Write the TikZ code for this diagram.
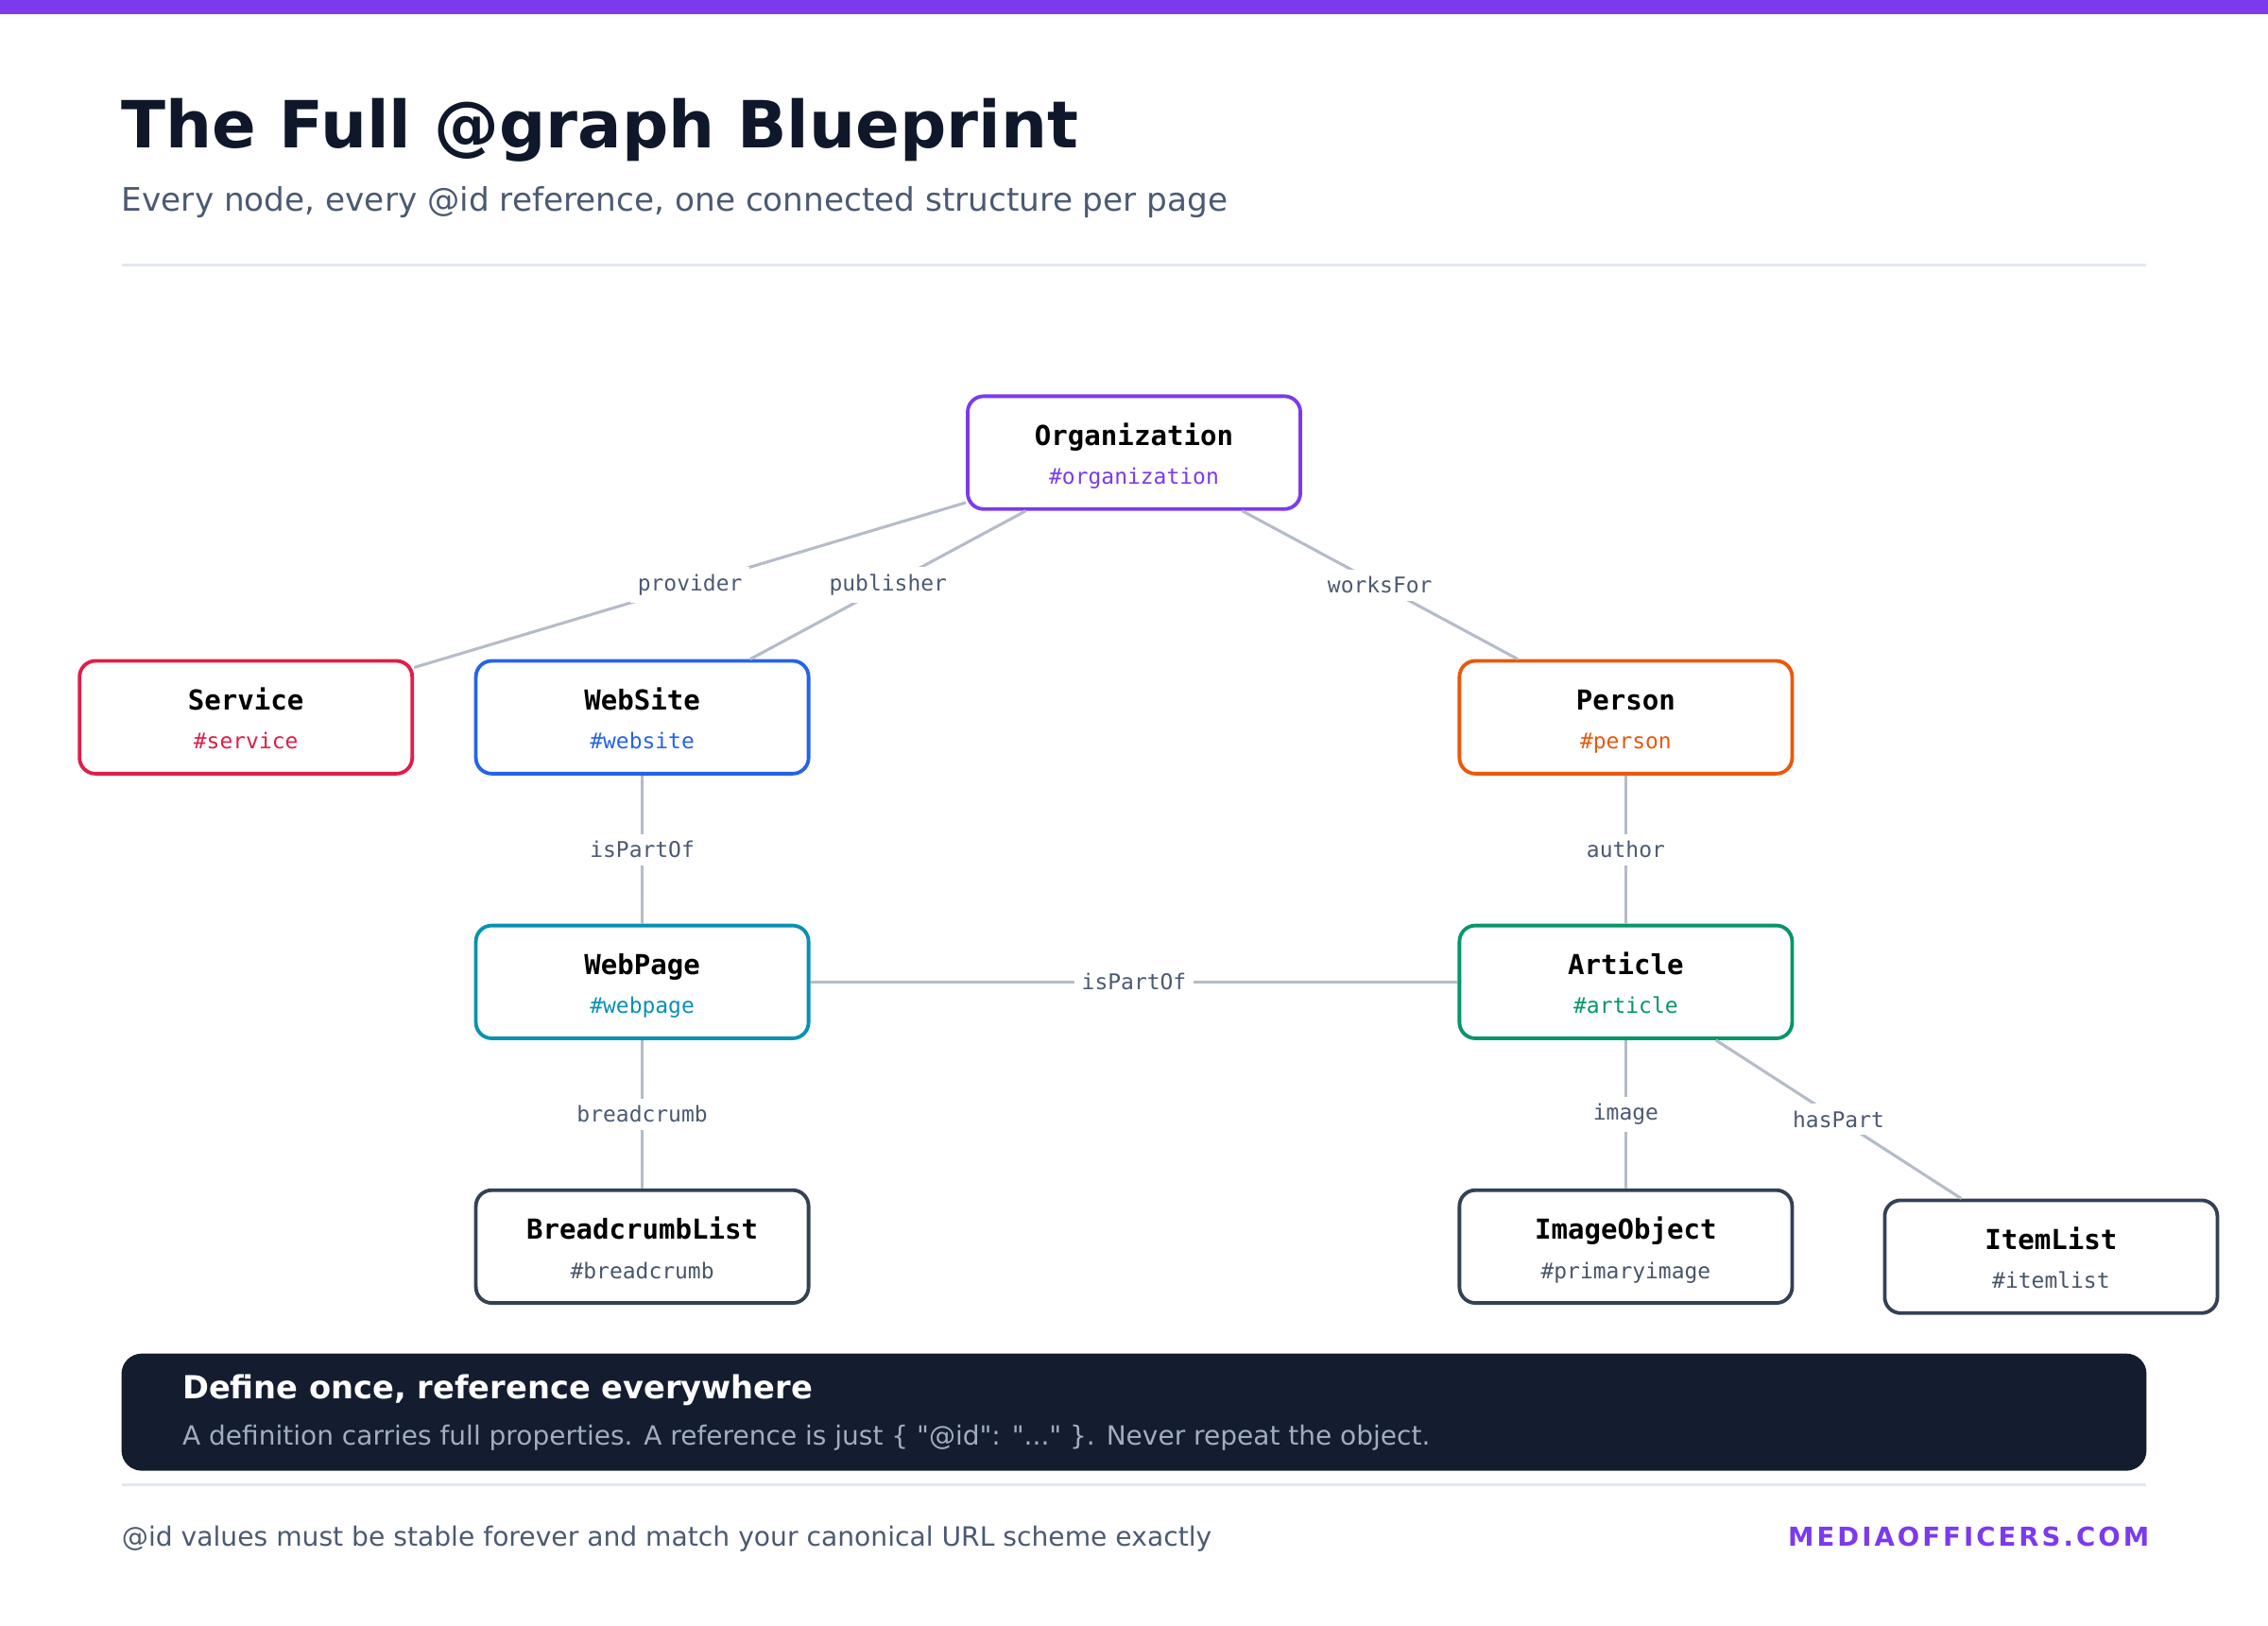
\documentclass[tikz,border=0pt]{standalone}
\usepackage{fontspec}
\setmainfont{DejaVu Sans}[Ligatures=TeXOff]
\setmonofont{DejaVu Sans Mono}
\newfontfamily\spacedfont[LetterSpace=11]{DejaVu Sans}
\usetikzlibrary{positioning}

\definecolor{barpurple}{HTML}{7C3AED}
\definecolor{inkdark}{HTML}{0F172A}
\definecolor{slatetext}{HTML}{4B5A72}
\definecolor{rulegray}{HTML}{E2E8F0}
\definecolor{edgegray}{HTML}{B4BCC8}
\definecolor{orgc}{HTML}{7C3AED}
\definecolor{svcc}{HTML}{E11D48}
\definecolor{webc}{HTML}{2563EB}
\definecolor{perc}{HTML}{EA580C}
\definecolor{pagec}{HTML}{0891B2}
\definecolor{artc}{HTML}{059669}
\definecolor{plainc}{HTML}{334155}
\definecolor{idgray}{HTML}{475569}
\definecolor{panel}{HTML}{141C2F}
\definecolor{panelsub}{HTML}{A0AEC0}

\tikzset{
  entity/.style={draw=#1, line width=2.5pt, rounded corners=11pt, fill=white,
    minimum width=230pt, minimum height=78pt, inner sep=0pt},
  entityname/.style={anchor=base, inner sep=0pt, font=\ttfamily\bfseries\fontsize{19}{22}\selectfont},
  entityid/.style={anchor=base, inner sep=0pt, text=#1, font=\ttfamily\fontsize{15}{18}\selectfont},
  rel/.style={draw=edgegray, line width=2pt},
  rellabel/.style={fill=white, text=slatetext, font=\ttfamily\fontsize{15}{18}\selectfont, inner sep=5pt},
}
% name, centre, frame colour, type, id, id colour
\newcommand{\entity}[6]{%
  \node[entity=#3] (#1) at (#2) {};
  \node[entityname] (#1-name) at ([yshift=5pt]#1.center) {#4};
  \node[entityid=#6] (#1-id) at ([yshift=-22pt]#1.center) {#5};
}

\begin{document}
\begin{tikzpicture}[x=1pt, y=-1pt]
  \useasboundingbox (0,0) rectangle (1568,1124);
  \fill[white] (0,0) rectangle (1568,1124);
  \fill[barpurple] (0,0) rectangle (1568,10);

  % heading
  \node[anchor=base west, inner sep=0pt, text=inkdark, font=\bfseries\fontsize{45}{52}\selectfont] (title) at (84,102) {The Full @graph Blueprint};
  \node[anchor=base west, inner sep=0pt, text=slatetext, font=\fontsize{22.4}{26}\selectfont] (subtitle) at (84,146) {Every node, every @id reference, one connected structure per page};
  \draw[rulegray, line width=2pt] (84,183) -- (1484,183);

  % entities
  \entity{org}{784,313}{orgc}{Organization}{\#organization}{orgc}
  \entity{service}{170,496}{svcc}{Service}{\#service}{svcc}
  \entity{website}{444,496}{webc}{WebSite}{\#website}{webc}
  \entity{person}{1124,496}{perc}{Person}{\#person}{perc}
  \entity{webpage}{444,679}{pagec}{WebPage}{\#webpage}{pagec}
  \entity{article}{1124,679}{artc}{Article}{\#article}{artc}
  \entity{crumbs}{444,862}{plainc}{BreadcrumbList}{\#breadcrumb}{idgray}
  \entity{image}{1124,862}{plainc}{ImageObject}{\#primaryimage}{idgray}
  \entity{itemlist}{1418,869}{plainc}{ItemList}{\#itemlist}{idgray}

  % references
  \draw[rel] (org) -- node[rellabel] {provider} (service);
  \draw[rel] (org) -- node[rellabel] {publisher} (website);
  \draw[rel] (org) -- node[rellabel] {worksFor} (person);
  \draw[rel] (website) -- node[rellabel] {isPartOf} (webpage);
  \draw[rel] (person) -- node[rellabel] {author} (article);
  \draw[rel] (webpage) -- node[rellabel] {isPartOf} (article);
  \draw[rel] (webpage) -- node[rellabel] {breadcrumb} (crumbs);
  \draw[rel] (article) -- node[rellabel] {image} (image);
  \draw[rel] (article) -- node[rellabel] {hasPart} (itemlist);

  % callout
  \fill[panel, rounded corners=14pt] (84,936) rectangle (1484,1017);
  \node[anchor=base west, inner sep=0pt, text=white, font=\bfseries\fontsize{22}{26}\selectfont] (calloutTitle) at (126,967) {Define once, reference everywhere};
  \node[anchor=base west, inner sep=0pt, text=panelsub, font=\fontsize{18.3}{22}\selectfont] (calloutText) at (126,999) {A definition carries full properties. A reference is just \{ "@id": "..." \}. Never repeat the object.};
  \draw[rulegray, line width=2pt] (84,1027) -- (1484,1027);

  % footer
  \node[anchor=base west, inner sep=0pt, text=slatetext, font=\fontsize{18.4}{22}\selectfont] (footnote) at (84,1069) {@id values must be stable forever and match your canonical URL scheme exactly};
  \node[anchor=base east, inner sep=0pt, text=barpurple, font=\spacedfont\bfseries\fontsize{18}{22}\selectfont] (brand) at (1486,1069) {MEDIAOFFICERS.COM};
\end{tikzpicture}
\end{document}
